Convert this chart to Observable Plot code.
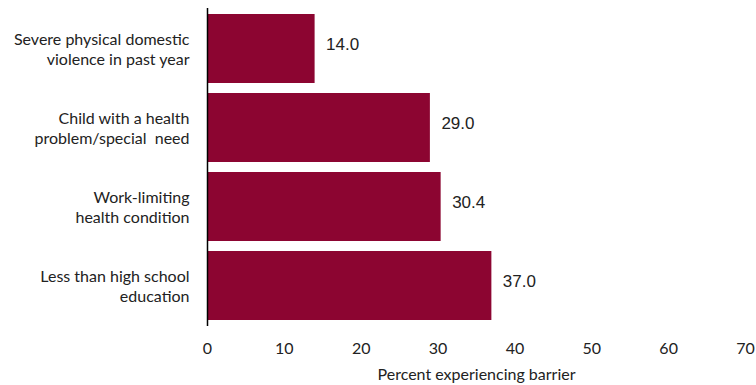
<!DOCTYPE html>
<html>
<head>
<meta charset="utf-8">
<script src="https://cdn.jsdelivr.net/npm/d3@7"></script>
<script src="https://cdn.jsdelivr.net/npm/@observablehq/plot@0.6"></script>
<style>
  html, body { margin: 0; padding: 0; background: #fff; }
  #chart svg { display: block; }
</style>
</head>
<body>
<div id="chart"></div>
<script>
const categories = [
  "Severe physical domestic\nviolence in past year",
  "Child with a health\nproblem/special  need",
  "Work-limiting\nhealth condition",
  "Less than high school\neducation"
];
const values = [14.0, 29.0, 30.4, 37.0];
const xTicks = [0, 10, 20, 30, 40, 50, 60, 70];

const data = categories.map((c, i) => ({category: c, value: values[i]}));
const barColor = "#8C0531";

const chart = Plot.plot({
  width: 756,
  height: 385,
  marginLeft: 207,
  marginRight: 11,
  marginTop: 8,
  marginBottom: 59,
  style: {fontFamily: "Lato, sans-serif", fontSize: "16px", color: "#222", background: "#fff"},
  x: {domain: [0, 70], ticks: xTicks},
  y: {domain: categories, paddingInner: 0.13, paddingOuter: 0.065, align: 0.5},
  marks: [
    Plot.barX(data, {x: "value", y: "category", fill: barColor}),
    Plot.text(data, {
      x: "value", y: "category", text: d => d.value.toFixed(1),
      textAnchor: "start", dx: 11, dy: -4, fontSize: 17,
      fontFamily: "Liberation Sans, Arial, sans-serif", fill: "#222"
    }),
    Plot.ruleX([0], {stroke: "#000", strokeWidth: 1.5}),
    Plot.axisY({tickSize: 0, tickPadding: 18, fontSize: 16, lineHeight: 1.25, label: null, fill: "#222"}),
    Plot.axisX({
      ticks: xTicks, tickSize: 0, tickPadding: 16, fontSize: 16, fill: "#222",
      label: "Percent experiencing barrier", labelAnchor: "center", labelArrow: "none", labelOffset: 53
    })
  ]
});
document.getElementById("chart").appendChild(chart);
</script>
</body>
</html>
